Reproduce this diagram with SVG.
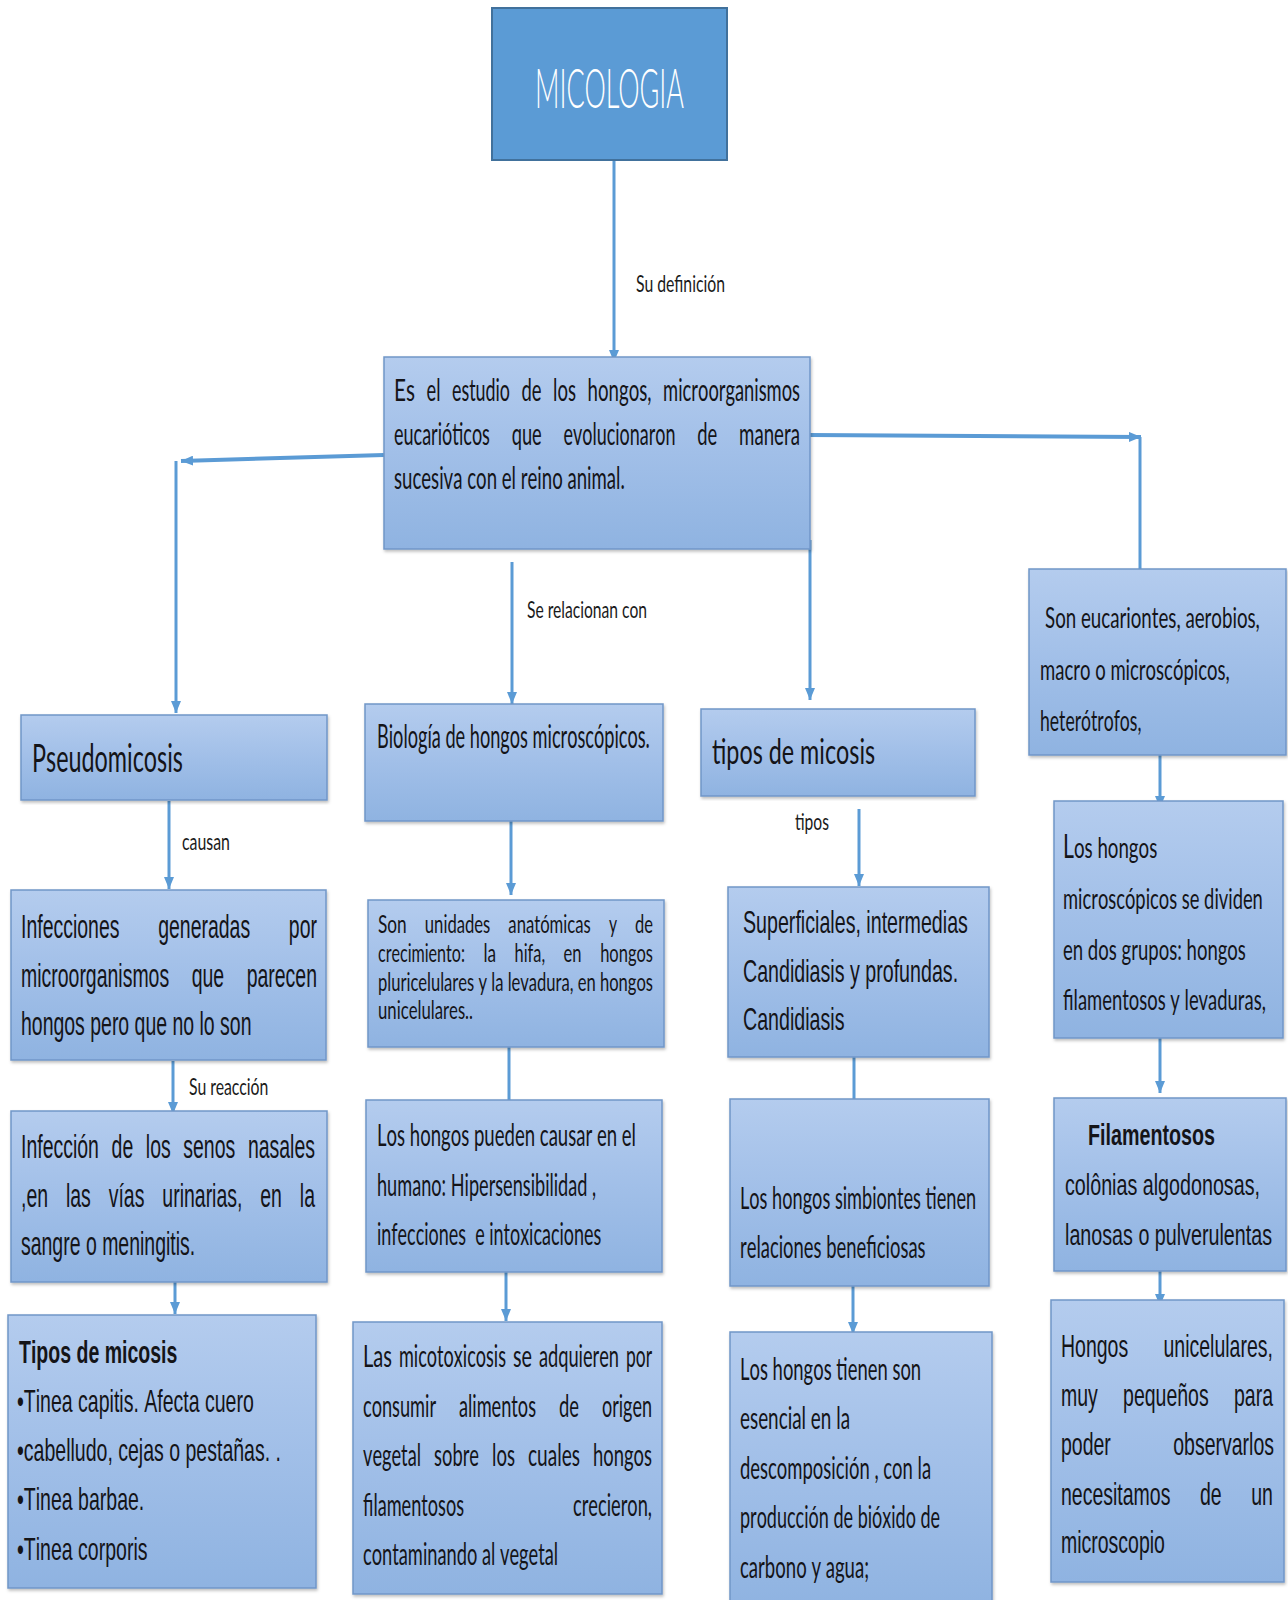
<svg xmlns="http://www.w3.org/2000/svg" width="1288" height="1600" viewBox="0 0 1288 1600">
<defs>
<linearGradient id="g" x1="0" y1="0" x2="0" y2="1">
<stop offset="0" stop-color="#b4ccee"/>
<stop offset="0.5" stop-color="#a1bfe8"/>
<stop offset="1" stop-color="#8fb3e1"/>
</linearGradient>
<filter id="sh" x="-5%" y="-5%" width="110%" height="110%">
<feDropShadow dx="1" dy="2" stdDeviation="1.5" flood-color="#000" flood-opacity="0.25"/>
</filter>
<marker id="ah" markerUnits="userSpaceOnUse" viewBox="0 0 12 10" refX="12" refY="5" markerWidth="12" markerHeight="10" orient="auto">
<path d="M0,0 L12,5 L0,10 z" fill="#5b9bd5"/>
</marker>
</defs>
<style>
.box{fill:url(#g);stroke:#7096c8;stroke-width:1.5;filter:url(#sh)}
.c{font-family:Lato,"Open Sans",sans-serif;fill:#141418;font-kerning:none}
.a{font-family:"Liberation Sans",Arial,sans-serif;fill:#141418;font-kerning:none}
.lbl{font-family:Lato,"Open Sans",sans-serif;font-size:24px;fill:#1a1a1a}
.ln{fill:none;stroke:#5b9bd5;stroke-width:3;marker-end:url(#ah)}
</style>
<rect width="1288" height="1600" fill="#fff"/>

<g id="connectors">
<path class="ln" d="M614,160 V362"/>
<path class="ln" d="M384,455 L181,461" style="stroke-width:4"/>
<path class="ln" d="M176,461 V713"/>
<path class="ln" d="M809,435 L1141,437" style="stroke-width:4"/>
<path class="ln" d="M1140,437 V593"/>
<path class="ln" d="M512,562 V704"/>
<path class="ln" d="M810,540 V700"/>
<path class="ln" d="M169,801 V889"/>
<path class="ln" d="M173,1061 V1114"/>
<path class="ln" d="M175,1243 V1314"/>
<path class="ln" d="M511,821 V895"/>
<path class="ln" d="M509,1045 V1112"/>
<path class="ln" d="M506,1250 V1321"/>
<path class="ln" d="M859,809 V886"/>
<path class="ln" d="M854,1048 V1112"/>
<path class="ln" d="M853,1282 V1334"/>
<path class="ln" d="M1160,755 V808"/>
<path class="ln" d="M1160,1038 V1093"/>
<path class="ln" d="M1160,1252 V1306"/>
<g transform="matrix(0.662,0,0,1,636,0)"><text class="lbl" x="0" y="292" textLength="134.5" lengthAdjust="spacingAndGlyphs">Su definición</text></g>
<g transform="matrix(0.595,0,0,1,527,0)"><text class="lbl" x="0" y="618" textLength="201.7" lengthAdjust="spacingAndGlyphs">Se relacionan con</text></g>
<g transform="matrix(0.62,0,0,1,182,0)"><text class="lbl" x="0" y="850" textLength="77.4" lengthAdjust="spacingAndGlyphs">causan</text></g>
<g transform="matrix(0.59,0,0,1,189,0)"><text class="lbl" x="0" y="1095" textLength="134.4" lengthAdjust="spacingAndGlyphs">Su reacción</text></g>
<g transform="matrix(0.67,0,0,1,795,0)"><text class="lbl" x="0" y="830" textLength="50.7" lengthAdjust="spacingAndGlyphs">tipos</text></g>
</g>

<g id="micologia">
<rect x="492" y="8" width="235" height="152" fill="#5b9bd5" stroke="#41719c" stroke-width="2"/>
<text x="535" y="108" font-family="Lato,sans-serif" font-weight="300" font-size="56" fill="#fff" textLength="149" lengthAdjust="spacingAndGlyphs">MICOLOGIA</text>
</g>

<g id="definicion">
<rect class="box" x="384" y="357" width="426" height="192"/>
<g class="c" font-size="31" transform="matrix(0.58,0,0,1,394,0)">
<text x="0" y="401" textLength="36.2" lengthAdjust="spacingAndGlyphs">Es</text>
<text x="56.1" y="401" textLength="24.1" lengthAdjust="spacingAndGlyphs">el</text>
<text x="100.1" y="401" textLength="99.9" lengthAdjust="spacingAndGlyphs">estudio</text>
<text x="219.9" y="401" textLength="34.5" lengthAdjust="spacingAndGlyphs">de</text>
<text x="274.3" y="401" textLength="39.6" lengthAdjust="spacingAndGlyphs">los</text>
<text x="333.8" y="401" textLength="110.3" lengthAdjust="spacingAndGlyphs">hongos,</text>
<text x="464" y="401" textLength="236" lengthAdjust="spacingAndGlyphs">microorganismos</text>
<text x="0" y="445" textLength="165.4" lengthAdjust="spacingAndGlyphs">eucarióticos</text>
<text x="203" y="445" textLength="51.7" lengthAdjust="spacingAndGlyphs">que</text>
<text x="292.3" y="445" textLength="193" lengthAdjust="spacingAndGlyphs">evolucionaron</text>
<text x="522.9" y="445" textLength="34.5" lengthAdjust="spacingAndGlyphs">de</text>
<text x="595" y="445" textLength="105" lengthAdjust="spacingAndGlyphs">manera</text>
<text x="0" y="489" textLength="398" lengthAdjust="spacingAndGlyphs">sucesiva con el reino animal.</text>
</g>
</g>

<g id="pseudomicosis">
<rect class="box" x="21" y="715" width="306" height="85"/>
<g class="c" font-size="38" transform="matrix(0.591,0,0,1,32,0)">
<text x="0" y="772" textLength="255.4" lengthAdjust="spacingAndGlyphs">Pseudomicosis</text>
</g>
</g>

<g id="biologia">
<rect class="box" x="365" y="704" width="298" height="117"/>
<g class="c" font-size="32" transform="matrix(0.552,0,0,1,377,0)">
<text x="0" y="748" textLength="494.4" lengthAdjust="spacingAndGlyphs">Biología de hongos microscópicos.</text>
</g>
</g>

<g id="tipos-micosis">
<rect class="box" x="701" y="709" width="274" height="87"/>
<g class="c" font-size="35" transform="matrix(0.655,0,0,1,712,0)">
<text x="0" y="764" textLength="249" lengthAdjust="spacingAndGlyphs">tipos de micosis</text>
</g>
</g>

<g id="eucariontes">
<rect class="box" x="1029" y="569" width="257" height="186"/>
<g class="c" font-size="28" transform="matrix(0.645,0,0,1,1040,0)">
<text x="7.75" y="628" textLength="333.1" lengthAdjust="spacingAndGlyphs">Son eucariontes, aerobios,</text>
<text x="0" y="680" textLength="294.1" lengthAdjust="spacingAndGlyphs">macro o microscópicos,</text>
<text x="0" y="731" textLength="157.2" lengthAdjust="spacingAndGlyphs">heterótrofos,</text>
</g>
</g>

<g id="infecciones">
<rect class="box" x="11" y="890" width="315" height="170"/>
<g class="a" font-size="33" transform="matrix(0.59,0,0,1,21,0)">
<text x="0" y="938">Infecciones</text>
<text x="232.5" y="938">generadas</text>
<text x="454" y="938">por</text>
<text x="0" y="987">microorganismos</text>
<text x="289.3" y="987">que</text>
<text x="382.5" y="987">parecen</text>
<text x="0" y="1035">hongos pero que no lo son</text>
</g>
</g>

<g id="unidades">
<rect class="box" x="368" y="900" width="296" height="147"/>
<g class="c" font-size="25" transform="matrix(0.645,0,0,1,378,0)">
<text x="0" y="933" textLength="44.5" lengthAdjust="spacingAndGlyphs">Son</text>
<text x="72.6" y="933" textLength="101.5" lengthAdjust="spacingAndGlyphs">unidades</text>
<text x="202.1" y="933" textLength="127.8" lengthAdjust="spacingAndGlyphs">anatómicas</text>
<text x="358" y="933" textLength="12.5" lengthAdjust="spacingAndGlyphs">y</text>
<text x="398.6" y="933" textLength="27.8" lengthAdjust="spacingAndGlyphs">de</text>
<text x="0" y="962" textLength="134.8" lengthAdjust="spacingAndGlyphs">crecimiento:</text>
<text x="163.5" y="962" textLength="19.5" lengthAdjust="spacingAndGlyphs">la</text>
<text x="211.8" y="962" textLength="47.3" lengthAdjust="spacingAndGlyphs">hifa,</text>
<text x="287.8" y="962" textLength="27.8" lengthAdjust="spacingAndGlyphs">en</text>
<text x="344.4" y="962" textLength="82" lengthAdjust="spacingAndGlyphs">hongos</text>
<text x="0" y="991" textLength="426.4" lengthAdjust="spacingAndGlyphs">pluricelulares y la levadura, en hongos</text>
<text x="0" y="1019" textLength="147.3" lengthAdjust="spacingAndGlyphs">unicelulares..</text>
</g>
</g>

<g id="superficiales">
<rect class="box" x="728" y="887" width="261" height="170"/>
<g class="a" font-size="31" transform="matrix(0.634,0,0,1,743,0)">
<text x="0" y="933">Superficiales, intermedias</text>
<text x="0" y="982">Candidiasis y profundas.</text>
<text x="0" y="1030">Candidiasis</text>
</g>
</g>

<g id="microscopicos">
<rect class="box" x="1054" y="801" width="229" height="237"/>
<g class="c" font-size="29" transform="matrix(0.62,0,0,1,1063,0)">
<text x="0" y="858" textLength="152.1" lengthAdjust="spacingAndGlyphs"><tspan font-size="33">L</tspan>os hongos</text>
<text x="0" y="909" textLength="322.3" lengthAdjust="spacingAndGlyphs">microscópicos se dividen</text>
<text x="0" y="960" textLength="295" lengthAdjust="spacingAndGlyphs">en dos grupos: hongos</text>
<text x="0" y="1010" textLength="327.2" lengthAdjust="spacingAndGlyphs">filamentosos y levaduras,</text>
</g>
</g>

<g id="infeccion-senos">
<rect class="box" x="11" y="1111" width="316" height="171"/>
<g class="a" font-size="33" transform="matrix(0.59,0,0,1,21,0)">
<text x="0" y="1158">Infección</text>
<text x="153.5" y="1158">de</text>
<text x="211.6" y="1158">los</text>
<text x="275.1" y="1158">senos</text>
<text x="384.6" y="1158">nasales</text>
<text x="0" y="1207">,en</text>
<text x="76.2" y="1207">las</text>
<text x="148.7" y="1207">vías</text>
<text x="239.6" y="1207">urinarias,</text>
<text x="405.6" y="1207">en</text>
<text x="472.6" y="1207">la</text>
<text x="0" y="1255">sangre o meningitis.</text>
</g>
</g>

<g id="pueden">
<rect class="box" x="366" y="1100" width="296" height="172"/>
<g class="c" font-size="30" transform="matrix(0.595,0,0,1,377,0)">
<text x="0" y="1146" textLength="435.3" lengthAdjust="spacingAndGlyphs">Los hongos pueden causar en el</text>
<text x="0" y="1196" textLength="368.4" lengthAdjust="spacingAndGlyphs">humano: Hipersensibilidad ,</text>
<text x="0" y="1245" xml:space="preserve" textLength="376.8" lengthAdjust="spacingAndGlyphs">infecciones  e intoxicaciones</text>
</g>
</g>

<g id="simbiontes">
<rect class="box" x="730" y="1099" width="259" height="187"/>
<g class="c" font-size="30" transform="matrix(0.595,0,0,1,740,0)">
<text x="0" y="1209" textLength="396.9" lengthAdjust="spacingAndGlyphs">Los hongos simbiontes tienen</text>
<text x="0" y="1258" textLength="311.8" lengthAdjust="spacingAndGlyphs">relaciones beneficiosas</text>
</g>
</g>

<g id="filamentosos">
<rect class="box" x="1054" y="1098" width="232" height="173"/>
<g class="a" font-size="30" transform="matrix(0.657,0,0,1,1065,0)">
<text x="35" y="1145" font-weight="bold">Filamentosos</text>
<text x="0" y="1195">colônias algodonosas,</text>
<text x="0" y="1245">lanosas o pulverulentas</text>
</g>
</g>

<g id="tipos-de-micosis">
<rect class="box" x="8" y="1315" width="308" height="273"/>
<g class="a" font-size="32" transform="matrix(0.61,0,0,1,17,0)">
<text x="3.3" y="1363" font-weight="bold">Tipos de micosis</text>
<text x="0" y="1412">•Tinea capitis. Afecta cuero</text>
<text x="0" y="1461">•cabelludo, cejas o pestañas. .</text>
<text x="0" y="1510">•Tinea barbae.</text>
<text x="0" y="1560">•Tinea corporis</text>
</g>
</g>

<g id="micotoxicosis">
<rect class="box" x="353" y="1322" width="309" height="272"/>
<g class="c" font-size="30" transform="matrix(0.6,0,0,1,363,0)">
<text x="0" y="1367" textLength="48.4" lengthAdjust="spacingAndGlyphs">Las</text>
<text x="60" y="1367" textLength="178.4" lengthAdjust="spacingAndGlyphs">micotoxicosis</text>
<text x="250" y="1367" textLength="31.7" lengthAdjust="spacingAndGlyphs">se</text>
<text x="293.3" y="1367" textLength="133.4" lengthAdjust="spacingAndGlyphs">adquieren</text>
<text x="438.4" y="1367" textLength="43.4" lengthAdjust="spacingAndGlyphs">por</text>
<text x="0" y="1417" textLength="121.7" lengthAdjust="spacingAndGlyphs">consumir</text>
<text x="160" y="1417" textLength="128.4" lengthAdjust="spacingAndGlyphs">alimentos</text>
<text x="326.7" y="1417" textLength="33.4" lengthAdjust="spacingAndGlyphs">de</text>
<text x="398.3" y="1417" textLength="83.4" lengthAdjust="spacingAndGlyphs">origen</text>
<text x="0" y="1466" textLength="96.7" lengthAdjust="spacingAndGlyphs">vegetal</text>
<text x="118.4" y="1466" textLength="75" lengthAdjust="spacingAndGlyphs">sobre</text>
<text x="215" y="1466" textLength="38.3" lengthAdjust="spacingAndGlyphs">los</text>
<text x="275" y="1466" textLength="86.7" lengthAdjust="spacingAndGlyphs">cuales</text>
<text x="383.3" y="1466" textLength="98.4" lengthAdjust="spacingAndGlyphs">hongos</text>
<text x="0" y="1516" textLength="168.4" lengthAdjust="spacingAndGlyphs">filamentosos</text>
<text x="350" y="1516" textLength="131.7" lengthAdjust="spacingAndGlyphs">crecieron,</text>
<text x="0" y="1565" textLength="325.2" lengthAdjust="spacingAndGlyphs">contaminando al vegetal</text>
</g>
</g>

<g id="tienen">
<rect class="box" x="730" y="1332" width="262" height="275"/>
<g class="c" font-size="30" transform="matrix(0.6,0,0,1,740,0)">
<text x="0" y="1380" textLength="301.9" lengthAdjust="spacingAndGlyphs">Los hongos tienen son</text>
<text x="0" y="1429" textLength="183.4" lengthAdjust="spacingAndGlyphs">esencial en la</text>
<text x="0" y="1479" textLength="318.5" lengthAdjust="spacingAndGlyphs">descomposición , con la</text>
<text x="0" y="1528" textLength="333.5" lengthAdjust="spacingAndGlyphs">producción de bióxido de</text>
<text x="0" y="1578" textLength="215.1" lengthAdjust="spacingAndGlyphs">carbono y agua;</text>
</g>
</g>

<g id="unicelulares">
<rect class="box" x="1051" y="1300" width="233" height="282"/>
<g class="a" font-size="31" transform="matrix(0.629,0,0,1,1061,0)">
<text x="0" y="1357">Hongos</text>
<text x="163" y="1357">unicelulares,</text>
<text x="0" y="1406">muy</text>
<text x="98.7" y="1406">pequeños</text>
<text x="275" y="1406">para</text>
<text x="0" y="1455">poder</text>
<text x="178.5" y="1455">observarlos</text>
<text x="0" y="1505">necesitamos</text>
<text x="221" y="1505">de</text>
<text x="302.5" y="1505">un</text>
<text x="0" y="1553">microscopio</text>
</g>
</g>
</svg>
